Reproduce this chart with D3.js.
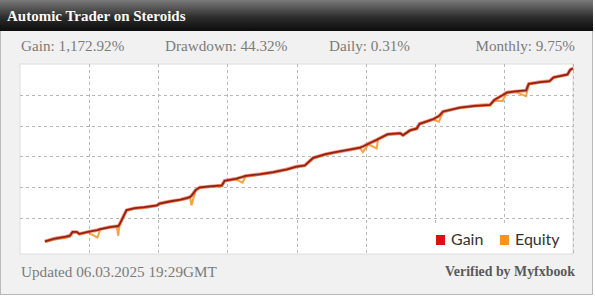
<!DOCTYPE html>
<html>
<head>
<meta charset="utf-8">
<script src="https://cdn.jsdelivr.net/npm/d3@7"></script>
<style>
  body { margin: 0; background: #fff; }
  svg { display: block; }
</style>
</head>
<body>
<svg width="595" height="300"></svg>
<script>
// days since start (x) and gain / equity in percent (y)
var days   = [18, 25, 33, 36, 38, 41, 43, 49, 56, 58, 65, 70, 71, 72, 75, 77, 83, 90, 99, 101,
              108, 116, 121, 123, 124, 127, 130, 137, 146, 148, 156, 161, 163, 174, 183, 193, 200, 206, 212, 221,
              228, 239, 246, 248, 252, 258, 259, 266, 275, 277, 282, 287, 289, 299, 303, 306, 318, 329, 340, 343,
              349, 352, 358, 366, 368, 376, 383, 386, 396, 398, 400];
var gain   = [49, 68, 80, 86, 111, 111, 98, 111, 123, 129, 142, 148, 148, 160, 215, 252, 265, 271, 283, 295,
              308, 320, 332, 338, 345, 382, 400, 406, 412, 443, 455, 468, 474, 486, 498, 517, 535, 542, 591, 615,
              628, 646, 658, 665, 683, 708, 714, 745, 751, 738, 769, 782, 812, 843, 862, 892, 917, 929, 935, 966,
              997, 1015, 1022, 1028, 1071, 1083, 1089, 1114, 1132, 1163, 1172.92];
var equity = [45, 62, 72, 80, 105, 108, 95, 108, 74, 126, 140, 146, 86, 155, 210, 248, 262, 268, 280, 292,
              305, 316, 328, 334, 283, 378, 396, 403, 410, 440, 452, 431, 470, 483, 495, 514, 532, 538, 586, 611,
              625, 643, 655, 628, 679, 652, 710, 741, 748, 735, 766, 778, 808, 840, 825, 888, 914, 926, 932, 962,
              960, 1012, 1019, 991, 1068, 1080, 1086, 1110, 1129, 1160, 1170];
var xTicks = [0, 50, 100, 150, 200, 250, 300, 350, 400];
var yTicks = [200, 400, 600, 800, 1000];
var stats  = ["Gain: 1,172.92%", "Drawdown: 44.32%", "Daily: 0.31%", "Monthly: 9.75%"];
var legendItems = [{name: "Gain", color: "#dd1111"}, {name: "Equity", color: "#f7941d"}];

var svg = d3.select('svg');
var serif = '"Liberation Serif", "DejaVu Serif", serif';

// card + header
var defs = svg.append('defs');
var grad = defs.append('linearGradient').attr('id', 'hdr').attr('x1', 0).attr('y1', 0).attr('x2', 0).attr('y2', 1);
grad.append('stop').attr('offset', '0%').attr('stop-color', '#7a7a7a');
grad.append('stop').attr('offset', '55%').attr('stop-color', '#2e2e2e');
grad.append('stop').attr('offset', '100%').attr('stop-color', '#0c0c0c');

svg.append('rect').attr('x', 0).attr('y', 0).attr('width', 595).attr('height', 300).attr('fill', '#ffffff');
svg.append('rect').attr('x', 0.5).attr('y', 0.5).attr('width', 592).attr('height', 294)
    .attr('fill', '#f1f1f1').attr('stroke', '#b9b9b9');
svg.append('rect').attr('x', 0).attr('y', 0).attr('width', 593).attr('height', 31).attr('fill', 'url(#hdr)');

svg.append('text')
    .text('Automic Trader on Steroids')
    .attr('x', 7).attr('y', 21)
    .attr('font-family', serif).attr('font-weight', 'bold').attr('font-size', 15)
    .attr('fill', '#fafafa');

// stats row
var statX = [21, 165, 329, 575];
svg.selectAll('.stat')
    .data(stats)
    .enter()
    .append('text')
    .attr('class', 'stat')
    .text(function (d) { return d; })
    .attr('x', function (d, i) { return statX[i]; })
    .attr('y', 51)
    .attr('text-anchor', function (d, i) { return i == 3 ? 'end' : 'start'; })
    .attr('font-family', serif).attr('font-size', 15.2)
    .attr('fill', '#7b7b7b');

// plot area
var pLeft = 20, pRight = 573, pTop = 64, pBottom = 254;
var scaleX = d3.scaleLinear().domain([0, 400]).range([pLeft, pRight]);
var scaleY = d3.scaleLinear().domain([-32.5, 1200]).range([pBottom, pTop]);

svg.append('rect').attr('x', pLeft).attr('y', pTop).attr('width', pRight - pLeft).attr('height', pBottom - pTop)
    .attr('fill', '#ffffff').attr('stroke', '#dddddd');

var grid = svg.append('g').attr('stroke', '#b8b8b8').attr('stroke-dasharray', '3,3').attr('stroke-width', 1);
grid.selectAll('.vg')
    .data(xTicks.slice(1))
    .enter()
    .append('line')
    .attr('x1', function (d) { return Math.round(scaleX(d)) + 0.5; })
    .attr('x2', function (d) { return Math.round(scaleX(d)) + 0.5; })
    .attr('y1', pTop).attr('y2', pBottom);
grid.selectAll('.hg')
    .data(yTicks)
    .enter()
    .append('line')
    .attr('y1', function (d) { return Math.round(scaleY(d)) + 0.5; })
    .attr('y2', function (d) { return Math.round(scaleY(d)) + 0.5; })
    .attr('x1', pLeft).attr('x2', pRight);

var valLine = d3.line()
    .x(function (d, i) { return scaleX(days[i]); })
    .y(function (d) { return scaleY(d); });

svg.append('path').datum(equity)
    .attr('d', valLine)
    .attr('fill', 'none').attr('stroke', '#f7941d').attr('stroke-width', 2).attr('opacity', 0.85);

// soft halo under the gain line
svg.append('path').datum(gain)
    .attr('d', valLine)
    .attr('fill', 'none').attr('stroke', '#f04a2a').attr('stroke-width', 3.5).attr('opacity', 0.6);
svg.append('path').datum(gain)
    .attr('d', valLine)
    .attr('fill', 'none').attr('stroke', '#8e2318').attr('stroke-width', 1.8);

// legend
var lg = svg.append('g').attr('transform', 'translate(433,223)');
lg.append('rect').attr('x', 0).attr('y', 0).attr('width', 135).attr('height', 30).attr('fill', '#ffffff');
var lx = [3, 67];
var items = lg.selectAll('.li')
    .data(legendItems)
    .enter()
    .append('g')
    .attr('transform', function (d, i) { return 'translate(' + lx[i] + ',0)'; });
items.append('rect')
    .attr('x', 0).attr('y', 12).attr('width', 9).attr('height', 10)
    .attr('fill', function (d) { return d.color; });
items.append('text')
    .text(function (d) { return d.name; })
    .attr('x', 15).attr('y', 22)
    .attr('font-family', 'Lato, "Noto Sans", sans-serif').attr('font-size', 16)
    .attr('fill', '#333333');

// footer
svg.append('text')
    .text('Updated 06.03.2025 19:29GMT')
    .attr('x', 21).attr('y', 277)
    .attr('font-family', serif).attr('font-size', 15.2)
    .attr('fill', '#7b7b7b');

svg.append('text')
    .text('Verified by Myfxbook')
    .attr('x', 575).attr('y', 276)
    .attr('text-anchor', 'end')
    .attr('font-family', serif).attr('font-weight', 'bold').attr('font-size', 13.9)
    .attr('fill', '#5a5a5a');
</script>
</body>
</html>
